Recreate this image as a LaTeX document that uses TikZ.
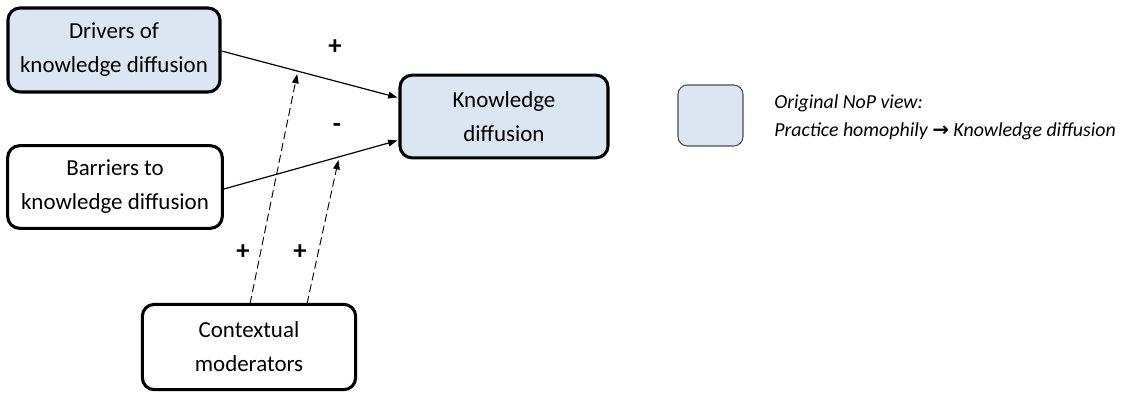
\documentclass[tikz,border=0pt]{standalone}
\usepackage{fontspec}
\setmainfont{Carlito}
\newfontfamily\symfont{DejaVu Sans}
\usetikzlibrary{arrows.meta,calc}
\definecolor{boxblue}{HTML}{DCE6F2}
\tikzset{
  factor/.style={draw=black, line width=2.3pt, rounded corners=9pt, align=center,
    font=\fontsize{17.2}{25.5}\selectfont, inner sep=0pt},
  legendbox/.style={draw=black!70, line width=0.8pt, rounded corners=7pt, fill=boxblue, inner sep=0pt},
  effect/.style={line width=0.9pt, -{Triangle[length=7pt,width=5pt]}},
  moderation/.style={line width=0.7pt, dash pattern=on 6pt off 3pt, -{Triangle[length=7pt,width=5pt]}},
  sign/.style={font=\fontsize{20}{22}\selectfont\bfseries, inner sep=0pt}
}
\begin{document}
\begin{tikzpicture}[x=0.75pt,y=-0.75pt]
\useasboundingbox (0,0) rectangle (1123,394);
\node[factor, fill=boxblue, minimum width=159pt, minimum height=63pt] (drv) at (114,50) {Drivers of\\knowledge diffusion};
\node[factor, minimum width=161pt, minimum height=62pt] (bar) at (115,187) {Barriers to\\knowledge diffusion};
\node[factor, fill=boxblue, minimum width=156pt, minimum height=62pt] (kd) at (504,116.5) {Knowledge\\diffusion};
\node[factor, minimum width=160pt, minimum height=64pt] (ctx) at (249,347) {Contextual\\moderators};
\node[legendbox, minimum width=48.75pt, minimum height=45.75pt] (leg) at (710.5,115.5) {};
\node[anchor=west, font=\fontsize{14.9}{21}\selectfont\itshape, align=left, inner sep=0pt] (legtxt) at (774,117)
  {Original NoP view:\\Practice homophily {\symfont\bfseries\upshape →} Knowledge diffusion};
\draw[effect] (drv.east) ++(0,1) coordinate (ds) -- ($(kd.west)+(-1,-19)$) coordinate (de);
\draw[effect] (bar.east) ++(0,2) coordinate (bs) -- ($(kd.west)+(-1,24)$) coordinate (be);
\coordinate (m1) at ($(ctx.north)+(1,1)$);
\coordinate (m2) at ($(ctx.north)+(58,1)$);
\draw[moderation] (m1) -- ($(ds)!0.43!(de)+(0,3)$) coordinate (t1);
\draw[moderation] (m2) -- ($(bs)!0.66!(be)+(0,3)$) coordinate (t2);
\node[sign] (p1) at (335,47) {+};
\node[sign] (n1) at (337,128) {-};
\node[sign] (p2) at (243,252) {+};
\node[sign] (p3) at (300,252) {+};
\end{tikzpicture}
\end{document}
